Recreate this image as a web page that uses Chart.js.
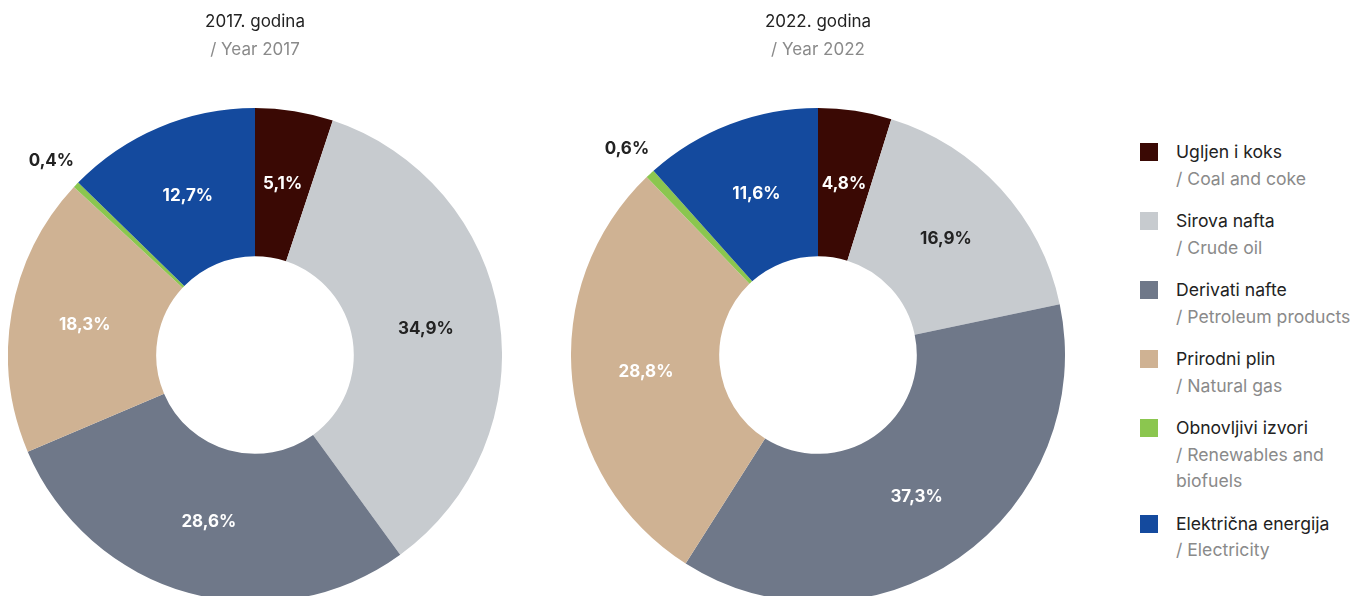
<!DOCTYPE html>
<html>
<head>
<meta charset="utf-8">
<script src="https://cdn.jsdelivr.net/npm/chart.js@4.4.0/dist/chart.umd.min.js"></script>
<style>
    html, body { margin: 0; padding: 0; background: #fff; width: 1354px; height: 596px; overflow: hidden; font-family: Inter, sans-serif; }
    .pie { position: absolute; top: 0; }
    #pie2017 { left: 8px; }
    #pie2022 { left: 571px; }
    #legend { position: absolute; left: 1140px; top: 139px; }
    .item { display: flex; margin-bottom: 16px; }
    .swatch { width: 18px; height: 18px; margin-top: 4px; margin-right: 18px; flex: none; }
    .txt { font-size: 17.6px; line-height: 26.5px; white-space: pre-line; }
    .hr { color: #222; }
    .en { color: #8a8a8a; }
</style>
</head>
<body>
<canvas id="pie2017" class="pie" width="494" height="602"></canvas>
<canvas id="pie2022" class="pie" width="494" height="602"></canvas>
<div id="legend"></div>

<script>
// categories (Croatian / English)
const categoriesHr = ['Ugljen i koks', 'Sirova nafta', 'Derivati nafte', 'Prirodni plin', 'Obnovljivi izvori', 'Električna energija'];
const categoriesEn = ['/ Coal and coke', '/ Crude oil', '/ Petroleum products', '/ Natural gas', '/ Renewables and\nbiofuels', '/ Electricity'];

// shares in %
const values2017 = [5.1, 34.9, 28.6, 18.3, 0.4, 12.7];
const values2022 = [4.8, 16.9, 37.3, 28.8, 0.6, 11.6];

const colors = ['#3a0904', '#c7cbcf', '#6f7889', '#cfb293', '#8bc64f', '#144a9e'];
const labelColors = ['#fff', '#222', '#fff', '#fff', '#222', '#fff'];

// percentage labels in the middle of the ring, tiny slices get theirs outside
const sliceLabels = {
    id: 'sliceLabels',
    afterDatasetsDraw(chart) {
        const ctx = chart.ctx;
        const meta = chart.getDatasetMeta(0);
        const values = chart.data.datasets[0].data;
        ctx.save();
        ctx.font = 'bold 17px Inter';
        ctx.textAlign = 'center';
        ctx.textBaseline = 'middle';
        meta.data.forEach((arc, i) => {
            const p = arc.getProps(['x', 'y', 'startAngle', 'endAngle', 'innerRadius', 'outerRadius'], true);
            const mid = (p.startAngle + p.endAngle) / 2;
            const outside = values[i] < 2;
            const r = outside ? p.outerRadius + 34 : (p.innerRadius + p.outerRadius) / 2;
            ctx.fillStyle = labelColors[i];
            const text = values[i].toFixed(1).replace('.', ',') + '%';
            ctx.fillText(text, p.x + Math.cos(mid) * r, p.y + Math.sin(mid) * r);
        });
        ctx.restore();
    }
};

function makePie(id, year, values) {
    const font = { family: 'Inter', size: 17, weight: 'normal', lineHeight: 1.2 };
    return new Chart(document.getElementById(id), {
        type: 'doughnut',
        data: {
            labels: categoriesHr,
            datasets: [{
                data: values,
                backgroundColor: colors,
                borderWidth: 0,
                hoverOffset: 0
            }]
        },
        options: {
            responsive: false,
            animation: false,
            events: [],
            cutout: '40%',
            plugins: {
                legend: { display: false },
                tooltip: { enabled: false },
                title: {
                    display: true,
                    text: year + '. godina',
                    color: '#222',
                    font: font,
                    padding: { top: 12, bottom: 0 }
                },
                subtitle: {
                    display: true,
                    text: '/ Year ' + year,
                    color: '#8a8a8a',
                    font: font,
                    padding: { top: 7, bottom: 48.2 }
                }
            }
        },
        plugins: [sliceLabels]
    });
}

makePie('pie2017', 2017, values2017);
makePie('pie2022', 2022, values2022);

// legend
const legend = document.getElementById('legend');
categoriesHr.forEach((name, i) => {
    const item = document.createElement('div');
    item.className = 'item';
    item.innerHTML = '<div class="swatch" style="background:' + colors[i] + '"></div>' +
        '<div class="txt"><div class="hr">' + name + '</div><div class="en">' + categoriesEn[i] + '</div></div>';
    legend.appendChild(item);
});
</script>
</body>
</html>
